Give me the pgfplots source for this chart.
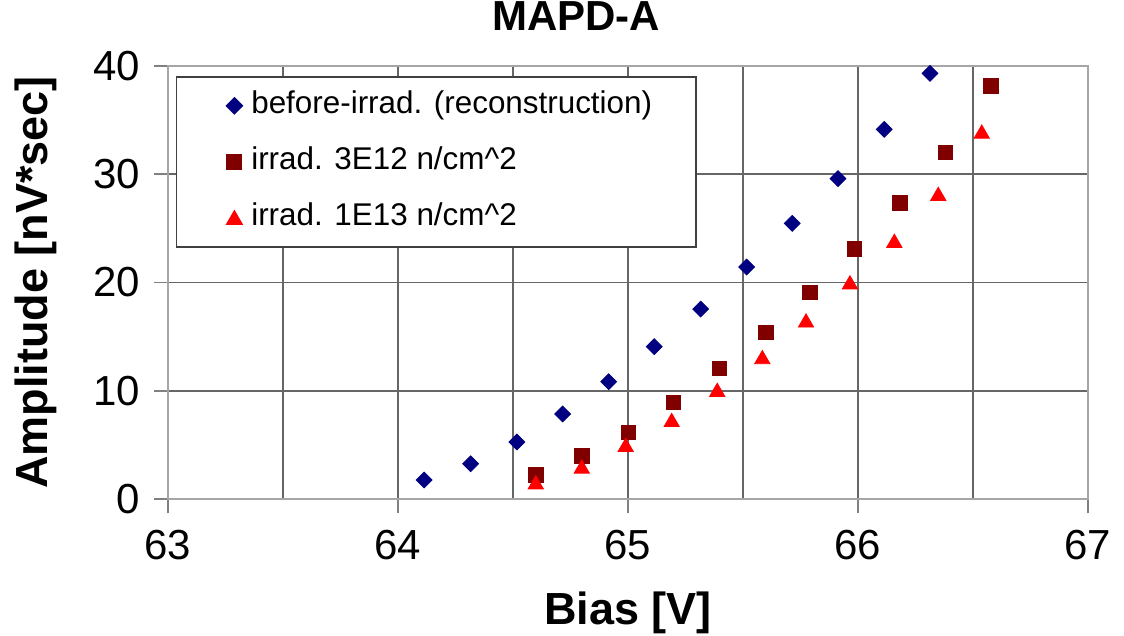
\documentclass[border=0pt]{standalone}
\usepackage{fontspec}
\setmainfont{Liberation Sans}
\usepackage{pgfplots}
\pgfplotsset{compat=1.18}

\definecolor{serBlue}{RGB}{0,0,128}
\definecolor{serMaroon}{RGB}{128,0,0}
\definecolor{serRed}{RGB}{255,0,0}

\begin{document}
\begin{tikzpicture}
\begin{axis}[
  scale only axis,
  width=460pt, height=216.8pt,
  xmin=63, xmax=67, ymin=0, ymax=40,
  xtick={63,64,65,66,67},
  minor xtick={63.5,64.5,65.5,66.5},
  ytick={0,10,20,30,40},
  grid=both,
  major grid style={draw=black!60, line width=0.9pt},
  minor grid style={draw=black!60, line width=0.9pt},
  axis line style={draw=black!35, line width=0.9pt},
  every tick/.style={draw=black!50, line width=0.9pt},
  tick pos=left,
  tick align=outside,
  major tick length=7pt,
  minor tick length=0pt,
  /pgf/number format/assume math mode=true,
  xticklabel style={font=\fontsize{21}{25}\selectfont, yshift=-4.9pt},
  yticklabel style={font=\fontsize{21}{25}\selectfont, xshift=-3.5pt},
  title={MAPD-A},
  title style={at={(axis description cs:0.4435,1.0524)}, anchor=base,
    font=\bfseries\fontsize{21}{25}\selectfont},
  xlabel={Bias [V]},
  xlabel style={at={(axis description cs:0.5,-0.2878)}, anchor=base,
    font=\bfseries\fontsize{22.5}{27}\selectfont},
  ylabel={Amplitude [nV*sec]},
  ylabel style={at={(axis description cs:-0.1305,0.5)}, anchor=base,
    font=\bfseries\fontsize{22.5}{27}\selectfont},
  legend cell align=left,
  legend image code/.code={\path (-8.5pt,0pt);
    \draw[#1] plot coordinates {(0pt,0pt)};},
  legend style={at={(axis description cs:0.0087,0.976)}, anchor=north west,
    draw=black!75, line width=0.7pt, fill=white,
    inner xsep=20pt, inner ysep=4.5pt, row sep=8pt, column sep=2.5pt,
    font=\fontsize{15.7}{19}\selectfont,
    nodes={inner sep=2pt, text height=12pt, text depth=4pt}},
]
% before irradiation (reconstructed)
\addplot[only marks, mark=square*, mark size=2.8pt,
  mark options={rotate=45, draw=serBlue, fill=serBlue}] coordinates {
  (64.114,1.78) (64.316,3.28) (64.517,5.29) (64.716,7.87)
  (64.916,10.85) (65.114,14.08) (65.316,17.55) (65.516,21.43)
  (65.714,25.46) (65.913,29.58) (66.114,34.13) (66.313,39.30)
};
\addlegendentry{before-irrad. (reconstruction)}
% fluence 3E12
\addplot[only marks, mark=square*, mark size=3.6pt,
  mark options={draw=serMaroon, fill=serMaroon}] coordinates {
  (64.599,2.24) (64.800,4.02) (65.001,6.18) (65.197,8.95)
  (65.397,12.05) (65.599,15.41) (65.791,19.10) (65.984,23.09)
  (66.183,27.33) (66.380,32.01) (66.577,38.15)
};
\addlegendentry{irrad. 3E12 n/cm\textasciicircum 2}
% fluence 1E13
\addplot[only marks, mark=triangle*, mark size=4.4pt,
  mark options={draw=serRed, fill=serRed, yshift=-1pt}] coordinates {
  (64.599,1.55) (64.799,3.00) (64.990,5.00) (65.190,7.30)
  (65.388,10.08) (65.584,13.10) (65.774,16.48) (65.965,20.00)
  (66.158,23.83) (66.349,28.16) (66.538,33.90)
};
\addlegendentry{irrad. 1E13 n/cm\textasciicircum 2}
\end{axis}
\pgfresetboundingbox
\path[use as bounding box]
  ([shift={(-84pt,-68.35pt)}]current axis.south west)
  rectangle ([shift={(18pt,32.85pt)}]current axis.north east);
\end{tikzpicture}
\end{document}
